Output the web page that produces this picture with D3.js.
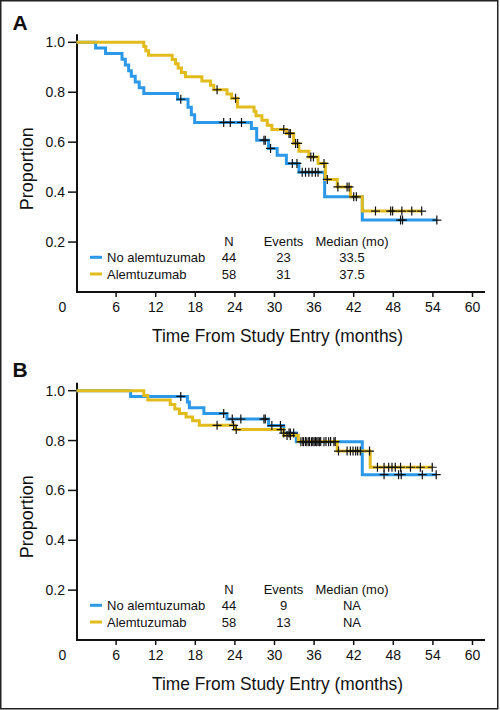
<!DOCTYPE html>
<html>
<head>
<meta charset="utf-8">
<script src="https://cdn.jsdelivr.net/npm/d3@7"></script>
<style>
  html, body { margin: 0; padding: 0; background: #fff; }
  svg { display: block; }
  text { font-family: "Liberation Sans", Arial, Helvetica, sans-serif; fill: #111; }
</style>
</head>
<body>
<svg id="chart" width="500" height="710"></svg>
<script>
// ---------- data ----------
const xTicks = [0, 6, 12, 18, 24, 30, 36, 42, 48, 54, 60];
const yTicks = [0.2, 0.4, 0.6, 0.8, 1.0];
const groups = ["No alemtuzumab", "Alemtuzumab"];
const groupN = [44, 58];
const eventsA = [23, 31];
const medianA = ["33.5", "37.5"];
const eventsB = [9, 13];
const medianB = ["NA", "NA"];
const tableHeaders = ["N", "Events", "Median (mo)"];

// Panel A: step points [month, proportion] and censor times
const stepsA_no = [[0, 1], [2.9, 0.977], [4.4, 0.955], [6.9, 0.932], [7.4, 0.909], [7.9, 0.886],
  [8.3, 0.864], [8.9, 0.841], [9.5, 0.818], [10.2, 0.795], [15.3, 0.772], [16.9, 0.74],
  [17.4, 0.71], [17.9, 0.679], [26.5, 0.655], [27.3, 0.608], [29.1, 0.575], [30.4, 0.548],
  [31.8, 0.515], [33.7, 0.48], [37.6, 0.381], [43.3, 0.288]];
const censA_no = [15.8, 22.3, 23.3, 25.0, 28.4, 28.6, 29.4, 32.7, 33.4, 34.2, 34.7, 35.2,
  35.7, 36.2, 36.6, 49.1, 49.4, 54.6];
const stepsA_al = [[0, 1], [10.2, 0.983], [10.5, 0.966], [10.9, 0.948], [14.5, 0.931], [15.0, 0.914],
  [15.4, 0.897], [15.9, 0.879], [16.5, 0.862], [19.0, 0.845], [20.3, 0.828], [20.8, 0.81],
  [22.8, 0.793], [23.5, 0.776], [24.4, 0.741], [26.9, 0.724], [27.2, 0.706], [28.1, 0.688],
  [28.9, 0.668], [29.6, 0.651], [31.8, 0.635], [32.9, 0.595], [33.7, 0.564], [35.2, 0.541],
  [36.6, 0.515], [37.7, 0.451], [39.5, 0.421], [41.5, 0.381], [43.3, 0.324]];
const censA_al = [21.3, 24.1, 31.4, 32.2, 32.4, 33.2, 33.5, 35.5, 35.9, 37.5, 38.0, 39.6, 41.0,
  41.3, 42.0, 42.4, 45.3, 47.6, 47.9, 49.3, 50.8, 52.3];

// Panel B
const stepsB_no = [[0, 1], [8.2, 0.977], [16.8, 0.955], [17.1, 0.932], [19.3, 0.909], [22.8, 0.886],
  [29.1, 0.86], [31.4, 0.83], [33.3, 0.795], [43.3, 0.663]];
const censB_no = [15.8, 22.3, 23.6, 24.9, 28.4, 28.6, 29.6, 30.9, 31.4, 32.2, 32.4, 32.9, 34.0, 34.4,
  34.9, 35.2, 35.6, 36.0, 36.4, 36.8, 37.5, 38.2, 39.0, 46.6, 48.8, 49.2, 52.4, 54.5];
const stepsB_al = [[0, 1], [10.2, 0.981], [10.8, 0.963], [14.2, 0.945], [14.9, 0.927], [15.6, 0.909],
  [16.6, 0.895], [17.6, 0.879], [18.6, 0.861], [24.0, 0.844], [31.4, 0.82], [33.6, 0.796],
  [39.5, 0.758], [44.5, 0.693]];
const censB_al = [21.3, 23.8, 24.2, 31.0, 31.9, 32.4, 34.3, 34.7, 35.3, 35.8, 36.2, 36.6, 37.0, 37.8,
  38.5, 39.2, 39.7, 41.0, 41.5, 41.9, 42.3, 42.6, 43.0, 44.4, 45.6, 46.6, 47.3, 47.8, 48.3, 49.1,
  50.6, 52.1, 53.9];

// ---------- drawing ----------
const colors = ["#2b98e8", "#e2bb1d"];
const svg = d3.select("#chart");

svg.append("rect").attr("x", 0.75).attr("y", 0.75).attr("width", 497).attr("height", 708)
  .attr("fill", "none").attr("stroke", "#222").attr("stroke-width", 1.5);

const x = d3.scaleLinear().domain([0, 60]).range([76.5, 472.5]);

function survAt(steps, t) {
  let s = steps[0][1];
  for (const p of steps) { if (p[0] <= t) s = p[1]; }
  return s;
}

function drawPanel(cfg) {
  const y = d3.scaleLinear().domain([0, 1]).range([cfg.y0, cfg.y1]);
  const g = svg.append("g");

  // panel letter
  g.append("text").attr("x", 12.5).attr("y", cfg.letterY).text(cfg.letter)
    .style("font-size", "21px").style("font-weight", "bold");

  // y axis
  g.append("line").attr("x1", 77).attr("x2", 77).attr("y1", y(1) - 8).attr("y2", y(0))
    .attr("stroke", "#111").attr("stroke-width", 2);
  const yt = g.selectAll(".yt").data(yTicks).enter().append("g");
  yt.append("line").attr("x1", 68).attr("x2", 77).attr("y1", d => y(d)).attr("y2", d => y(d))
    .attr("stroke", "#111").attr("stroke-width", 1.5);
  yt.append("text").attr("x", 65).attr("y", d => y(d) + 5).attr("text-anchor", "end")
    .style("font-size", "14px").text(d => d3.format(".1f")(d));

  // x axis
  g.append("line").attr("x1", 76).attr("x2", 485).attr("y1", y(0)).attr("y2", y(0))
    .attr("stroke", "#111").attr("stroke-width", 2);
  const xt = g.selectAll(".xt").data(xTicks).enter().append("g");
  xt.filter(d => d > 0).append("line").attr("x1", d => x(d)).attr("x2", d => x(d))
    .attr("y1", y(0)).attr("y2", y(0) + 5).attr("stroke", "#111").attr("stroke-width", 1.5);
  xt.append("text").attr("x", d => d === 0 ? x(d) - 14 : x(d)).attr("y", y(0) + 20)
    .attr("text-anchor", "middle").style("font-size", "14px").text(d => d);

  // axis titles
  g.append("text").attr("x", 277.5).attr("y", y(0) + 49.7).attr("text-anchor", "middle")
    .attr("textLength", 251).attr("lengthAdjust", "spacingAndGlyphs")
    .style("font-size", "19px").text("Time From Study Entry (months)");
  g.append("text").attr("transform", `translate(33.3,${(y(0) + y(1)) / 2 + 1.5}) rotate(-90)`)
    .attr("text-anchor", "middle").attr("textLength", 83).attr("lengthAdjust", "spacingAndGlyphs")
    .style("font-size", "19px").text("Proportion");

  // curves
  const line = d3.line().x(d => x(d[0])).y(d => y(d[1])).curve(d3.curveStepAfter);
  cfg.series.forEach((s, i) => {
    const endT = d3.max(s.cens);
    const pts = s.steps.concat([[endT, s.steps[s.steps.length - 1][1]]]);
    g.append("path").attr("d", line(pts)).attr("fill", "none")
      .attr("stroke", colors[i]).attr("stroke-width", 3);
  });
  cfg.series.forEach((s, i) => {
    g.selectAll(null).data(s.cens).enter().append("path")
      .attr("transform", d => `translate(${x(d)},${y(survAt(s.steps, d))})`)
      .attr("d", "M-4.5,0H4.5M0,-4.5V4.5").attr("stroke", "#111").attr("stroke-width", 1.2)
      .attr("fill", "none");
  });

  // legend table
  const hy = y(0) - 50.3;
  const colX = [229, 283.5, 352];
  tableHeaders.forEach((h, j) => {
    g.append("text").attr("x", colX[j]).attr("y", hy + 4.6).attr("text-anchor", "middle")
      .style("font-size", "13px").text(h);
  });
  groups.forEach((name, i) => {
    const ry = hy + 15.6 + i * 16.7;
    g.append("line").attr("x1", 90).attr("x2", 102).attr("y1", ry).attr("y2", ry)
      .attr("stroke", colors[i]).attr("stroke-width", 3);
    g.append("text").attr("x", 107).attr("y", ry + 4.6).style("font-size", "13px").text(name);
    [groupN[i], cfg.events[i], cfg.median[i]].forEach((v, j) => {
      g.append("text").attr("x", colX[j]).attr("y", ry + 4.6).attr("text-anchor", "middle")
        .style("font-size", "13px").text(v);
    });
  });
}

drawPanel({
  letter: "A", letterY: 29.5, y0: 292, y1: 42.3,
  series: [{ steps: stepsA_no, cens: censA_no }, { steps: stepsA_al, cens: censA_al }],
  events: eventsA, median: medianA
});
drawPanel({
  letter: "B", letterY: 377, y0: 640, y1: 390.7,
  series: [{ steps: stepsB_no, cens: censB_no }, { steps: stepsB_al, cens: censB_al }],
  events: eventsB, median: medianB
});
</script>
</body>
</html>
